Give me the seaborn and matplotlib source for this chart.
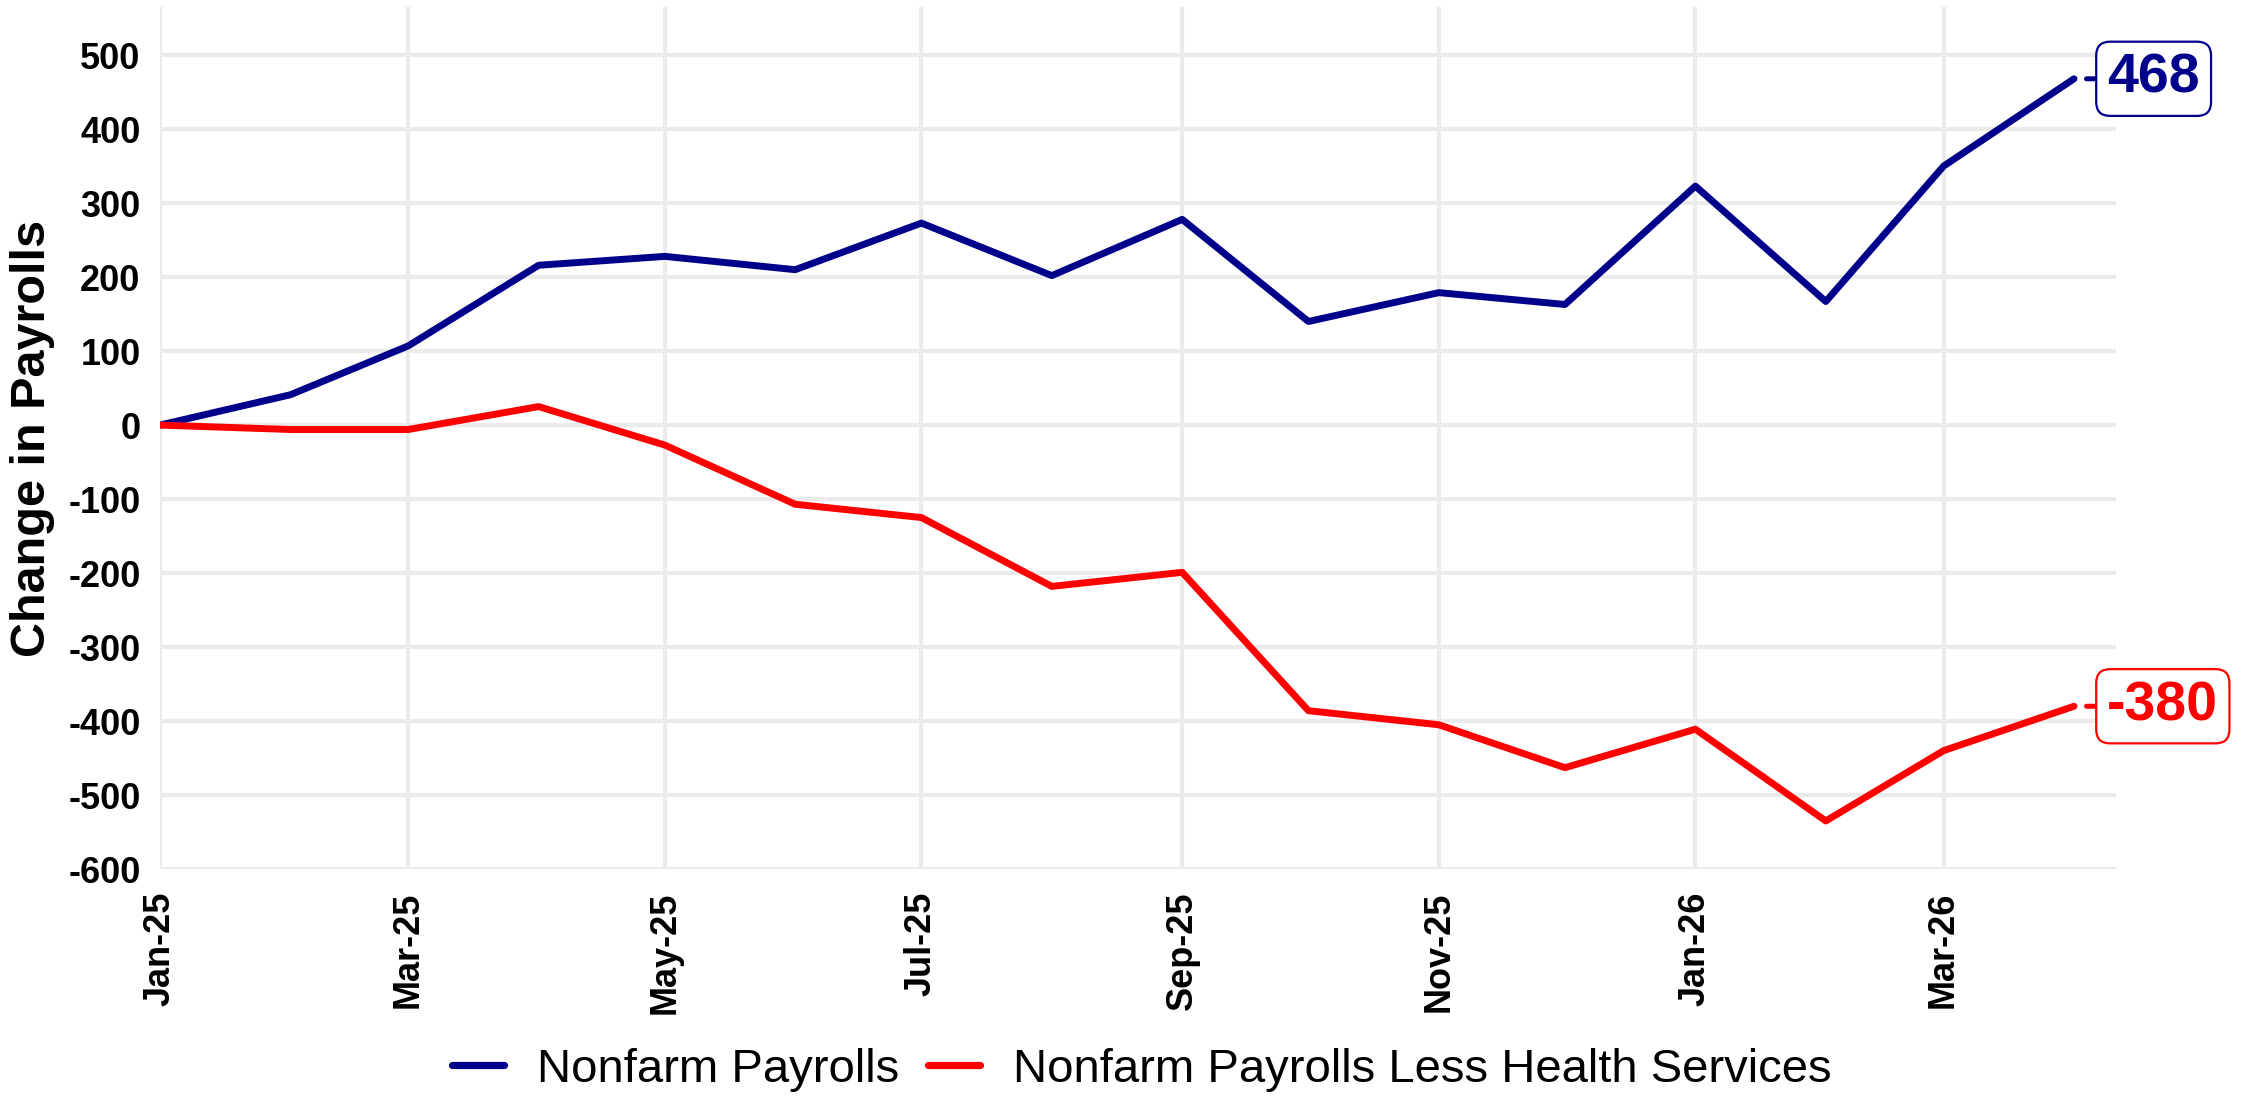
import matplotlib
matplotlib.use("Agg")
import matplotlib.pyplot as plt
import matplotlib.dates as mdates
import seaborn as sns
import pandas as pd
import numpy as np

months = pd.date_range("2025-01-01", "2026-04-01", freq="MS")
nonfarm = [0, 41, 107, 216, 228, 210, 273, 202, 278, 140, 179, 163, 323, 167, 350, 468]
less_health = [0, -6, -6, 25, -27, -107, -125, -218, -199, -386, -405, -463, -411, -535, -440, -380]
series_names = ["Nonfarm Payrolls", "Nonfarm Payrolls Less Health Services"]
colors = ["#00008B", "#FF0000"]
y_ticks = list(range(-600, 501, 100))
x_tick_dates = pd.to_datetime(["2025-01-01", "2025-03-01", "2025-05-01", "2025-07-01",
                               "2025-09-01", "2025-11-01", "2026-01-01", "2026-03-01"])

df = pd.DataFrame({
    "date": list(months) * 2,
    "value": nonfarm + less_health,
    "series": [series_names[0]] * len(months) + [series_names[1]] * len(months),
})

sns.set_theme(style="white")
plt.rcParams["font.family"] = ["Liberation Sans", "DejaVu Sans"]
plt.rcParams["axes.unicode_minus"] = False
plt.rcParams["text.color"] = "black"

fig = plt.figure(figsize=(11.27, 5.485), dpi=200)
ax = fig.add_axes([0.071, 0.2078, 0.9388 - 0.071, 0.9936 - 0.2078])

sns.lineplot(data=df, x="date", y="value", hue="series", palette=colors,
             linewidth=2.5, ax=ax, legend=True)

ax.set_ylim(-600, 565)
ax.set_xlim(pd.Timestamp("2025-01-01"), pd.Timestamp("2026-04-11"))
ax.set_yticks(y_ticks)
ax.set_yticklabels([str(v) for v in y_ticks], fontweight="bold", fontsize=13, color="black")
ax.set_xticks(x_tick_dates)
ax.xaxis.set_major_formatter(mdates.DateFormatter("%b-%y"))
for lbl in ax.get_xticklabels():
    lbl.set_rotation(90)
    lbl.set_fontweight("bold")
    lbl.set_fontsize(13)
    lbl.set_color("black")
ax.tick_params(axis="both", length=0)
ax.tick_params(axis="y", pad=7)
ax.tick_params(axis="x", pad=8)

ax.grid(True, color="#EBEBEB", linewidth=1.5)
ax.set_axisbelow(True)
for s in ax.spines.values():
    s.set_visible(False)

ax.set_xlabel("")
ax.set_ylabel("Change in Payrolls", fontsize=17.5, fontweight="bold", color="black")
ax.yaxis.set_label_coords(-0.0537, 0.5)

# end labels
for vals, col in zip([nonfarm, less_health], colors):
    ax.annotate(str(vals[-1]), xy=(months[-1], vals[-1]), xytext=(12, 0),
                textcoords="offset points", ha="left", va="center",
                fontsize=20, fontweight="bold", color=col,
                bbox=dict(boxstyle="round,pad=0.2,rounding_size=0.25", fc="white", ec=col, lw=0.8),
                arrowprops=dict(arrowstyle="-", color=col, lw=1.8, shrinkA=0, shrinkB=4.5),
                annotation_clip=False)

sns.move_legend(ax, "center", bbox_to_anchor=(0.502, -0.233), ncol=2, title=None,
                frameon=False, fontsize=17, handlelength=1.1, handletextpad=0.7,
                columnspacing=0.6)
leg = ax.get_legend()
for line in leg.get_lines():
    line.set_linewidth(2.6)
for t in leg.get_texts():
    t.set_color("black")

fig.savefig("out.png", dpi=200, facecolor="white")
